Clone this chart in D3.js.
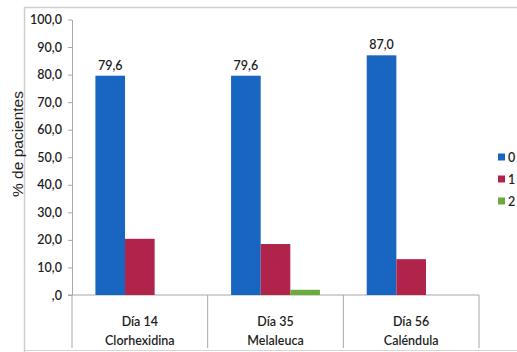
<!DOCTYPE html>
<html>
<head>
<meta charset="utf-8">
<script src="https://cdn.jsdelivr.net/npm/d3@7"></script>
<style>
  html, body { margin: 0; padding: 0; background: #fff; }
  svg { display: block; }
  text { font-family: Lato, "Open Sans", sans-serif; fill: #1e1e1e; }
</style>
</head>
<body>
<svg id="chart" width="517" height="352"></svg>
<script>
// Percentage of patients per score (0, 1, 2) at each follow-up day
const days = ["Día 14", "Día 35", "Día 56"];
const treatments = ["Clorhexidina", "Melaleuca", "Caléndula"];
const seriesNames = ["0", "1", "2"];
const score0 = [79.6, 79.6, 87.0];
const score1 = [20.4, 18.5, 13.0];
const score2 = [0.0, 1.9, 0.0];
const seriesValues = [score0, score1, score2];
const yTicks = [0, 10, 20, 30, 40, 50, 60, 70, 80, 90, 100];
const colors = ["#1866C0", "#B0234B", "#6BAA3C"];

const svg = d3.select("#chart");

// Outer chart frame
svg.append("path")
  .attr("d", "M24.5,352 V7.5 H517")
  .attr("fill", "none").attr("stroke", "#cfcfcf").attr("stroke-width", 1.5);
svg.append("line")
  .attr("x1", 24).attr("x2", 517).attr("y1", 350.5).attr("y2", 350.5)
  .attr("stroke", "#d6d6d6").attr("stroke-width", 1);

const plotLeft = 72, plotRight = 479;
const y = d3.scaleLinear().domain([0, 100]).range([295, 19.5]);
const x0 = d3.scaleBand().domain(days).range([plotLeft, plotRight]).padding(0);
const x1 = d3.scaleBand().domain(seriesNames).range([0, x0.bandwidth()])
  .paddingInner(0).paddingOuter(0.79);

const fmt = v => {
  const s = d3.format(".1f")(v).replace(".", ",");
  return s.startsWith("0,") ? s.slice(1) : s;
};

// Y axis
const yAxis = svg.append("g")
  .attr("transform", `translate(${plotLeft},0)`)
  .call(d3.axisLeft(y).tickValues(yTicks).tickSize(4).tickSizeOuter(0).tickFormat(fmt));
yAxis.select(".domain").attr("stroke", "#a8a8a8");
yAxis.selectAll(".tick line").attr("stroke", "#a8a8a8");
yAxis.selectAll(".tick text")
  .attr("x", -10)
  .style("font-family", "Lato, 'Open Sans', sans-serif")
  .style("font-size", "12.5px").style("font-weight", "600").attr("fill", "#2a2a2a");

// Y axis title
svg.append("text")
  .attr("transform", "translate(23,144) rotate(-90)")
  .attr("text-anchor", "middle")
  .style("font-family", "'Liberation Sans', Arial, sans-serif")
  .style("font-size", "15.5px")
  .text("% de pacientes");

// Category axis: baseline, separators and two label rows
svg.append("line")
  .attr("x1", plotLeft - 4).attr("x2", plotRight).attr("y1", y(0)).attr("y2", y(0))
  .attr("stroke", "#a8a8a8");
const seps = [plotLeft].concat(days.map(d => x0(d) + x0.bandwidth()));
svg.selectAll("line.sep").data(seps).join("line")
  .attr("class", "sep")
  .attr("x1", d => d).attr("x2", d => d)
  .attr("y1", y(0)).attr("y2", 348)
  .attr("stroke", "#a8a8a8");

svg.selectAll("text.day").data(days).join("text")
  .attr("class", "day")
  .attr("x", d => x0(d) + x0.bandwidth() / 2).attr("y", 326)
  .attr("text-anchor", "middle")
  .style("font-size", "12.5px").style("font-weight", "600")
  .text(d => d);
svg.selectAll("text.treat").data(treatments).join("text")
  .attr("class", "treat")
  .attr("x", (d, i) => x0(days[i]) + x0.bandwidth() / 2).attr("y", 345)
  .attr("text-anchor", "middle")
  .style("font-size", "12.5px").style("font-weight", "600")
  .text(d => d);

// Bars
const barData = [];
days.forEach((d, i) => {
  seriesNames.forEach((s, j) => {
    barData.push({ day: d, series: s, idx: j, value: seriesValues[j][i] });
  });
});
svg.append("g").selectAll("rect").data(barData).join("rect")
  .attr("x", d => x0(d.day) + x1(d.series))
  .attr("width", x1.bandwidth())
  .attr("y", d => y(d.value))
  .attr("height", d => y(0) - y(d.value))
  .attr("fill", d => colors[d.idx]);

// Value labels on score-0 bars
svg.append("g").selectAll("text").data(barData.filter(d => d.series === "0")).join("text")
  .attr("x", d => x0(d.day) + x1(d.series) + x1.bandwidth() / 2)
  .attr("y", d => y(d.value) - 6)
  .attr("text-anchor", "middle")
  .style("font-size", "12.5px").style("font-weight", "600")
  .text(d => fmt(d.value));

// Legend
const legend = svg.append("g").attr("transform", "translate(498,157)");
seriesNames.forEach((s, j) => {
  const g = legend.append("g").attr("transform", `translate(0,${j * 22})`);
  g.append("rect").attr("x", 0).attr("y", -3.5).attr("width", 7).attr("height", 7).attr("fill", colors[j]);
  g.append("text").attr("x", 10).attr("y", 4.5)
    .style("font-size", "12.5px").style("font-weight", "600")
    .text(s);
});
</script>
</body>
</html>
